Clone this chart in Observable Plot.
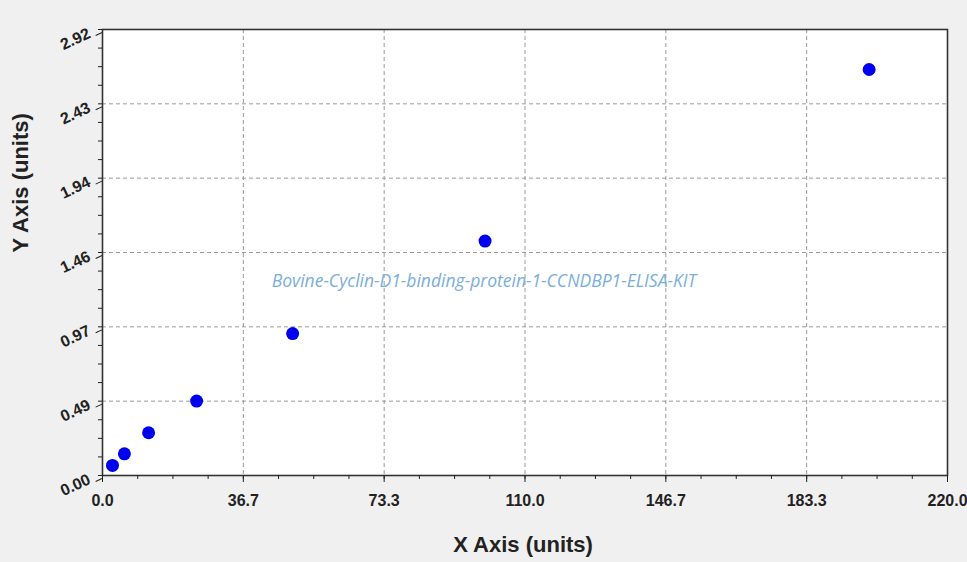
<!DOCTYPE html>
<html>
<head>
<meta charset="utf-8">
<script src="https://cdn.jsdelivr.net/npm/d3@7"></script>
<script src="https://cdn.jsdelivr.net/npm/@observablehq/plot@0.6"></script>
<style>
  html, body { margin: 0; padding: 0; background: #f0f0f0; }
  #chart { width: 967px; height: 562px; }
</style>
</head>
<body>
<div id="chart"></div>
<script>
// Data
const xValues = [2.6, 5.7, 12.0, 24.5, 49.5, 99.6, 199.6];
const yValues = [0.066, 0.142, 0.280, 0.487, 0.929, 1.535, 2.658];

// Ticks
const xTicks = [0, 36.667, 73.333, 110, 146.667, 183.333, 220];
const xTickLabels = ["0.0", "36.7", "73.3", "110.0", "146.7", "183.3", "220.0"];
const yTicks = [0, 0.4867, 0.9733, 1.46, 1.9467, 2.4333, 2.92];
const yTickLabels = ["0.00", "0.49", "0.97", "1.46", "1.94", "2.43", "2.92"];
const xMinor = d3.range(0, 25).map(i => i * 220 / 24);
const yMinor = d3.range(0, 25).map(i => i * 2.92 / 24);

const xLabel = "X Axis (units)";
const yLabel = "Y Axis (units)";
const watermark = "Bovine-Cyclin-D1-binding-protein-1-CCNDBP1-ELISA-KIT";

const points = xValues.map((x, i) => ({x, y: yValues[i]}));

const chart = Plot.plot({
  width: 967,
  height: 562,
  marginLeft: 102,
  marginRight: 20,
  marginTop: 29,
  marginBottom: 87,
  style: {background: "#f0f0f0", fontFamily: "'Liberation Sans', Arial, sans-serif", overflow: "visible"},
  x: {domain: [0, 220], label: null},
  y: {domain: [0, 2.92], label: null},
  marks: [
    Plot.frame({fill: "white", stroke: null}),
    Plot.gridX(xTicks.slice(1, -1), {stroke: "#9a9a9a", strokeOpacity: 1, strokeDasharray: "4,3"}),
    Plot.gridY(yTicks.slice(1, -1), {stroke: "#9a9a9a", strokeOpacity: 1, strokeDasharray: "4,3"}),
    Plot.frame({stroke: "#333", strokeWidth: 1.6}),
    Plot.axisX(xMinor, {tickSize: 4, text: null, stroke: "#222", label: null}),
    Plot.axisY(yMinor, {tickSize: 4, text: null, stroke: "#222", label: null}),
    Plot.axisX(xTicks, {
      tickSize: 7, stroke: "#222", label: null,
      tickFormat: d => xTickLabels[xTicks.indexOf(d)],
      fontSize: 16, fontWeight: "bold", fill: "#222", tickPadding: 12
    }),
    Plot.axisY(yTicks, {
      tickSize: 7, stroke: "#222", label: null,
      tickFormat: d => yTickLabels[yTicks.indexOf(d)],
      fontSize: 16, fontWeight: "bold", fill: "#222", rotate: -25, textAnchor: "end", tickPadding: 6, dy: 3
    }),
    Plot.text([watermark], {
      text: d => d, frameAnchor: "middle", dx: -41, dy: 29,
      fill: "#7aaedc", fontSize: 17.5, fontStyle: "italic", fontFamily: "'Open Sans', sans-serif"
    }),
    Plot.dot(points, {x: "x", y: "y", r: 6.5, fill: "#0000ee", stroke: "none"}),
    Plot.text([xLabel], {
      text: d => d, frameAnchor: "bottom", dy: 76, dx: -2,
      fontSize: 22, fontWeight: "bold", fill: "#222"
    }),
    Plot.text([yLabel], {
      text: d => d, frameAnchor: "left", dx: -82, rotate: -90,
      fontSize: 22, fontWeight: "bold", fill: "#222"
    })
  ]
});
document.getElementById("chart").appendChild(chart);
</script>
</body>
</html>
